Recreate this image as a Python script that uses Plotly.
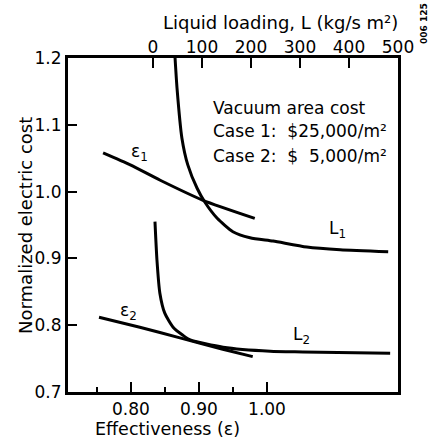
import plotly.graph_objects as go

# Effectiveness curves (bottom axis)
eff_1 = [0.759, 0.799, 0.843, 0.906, 0.982]
cost_eps1 = [1.058, 1.040, 1.017, 0.987, 0.960]
eff_2 = [0.753, 0.813, 0.872, 0.935, 0.979]
cost_eps2 = [0.812, 0.797, 0.781, 0.764, 0.753]

# Liquid loading curves (top axis)
load_1 = [45, 49, 59, 71, 90, 106, 131, 163, 198, 245, 314, 382, 480]
cost_L1 = [1.200, 1.155, 1.080, 1.040, 1.005, 0.984, 0.960, 0.940, 0.931, 0.926, 0.917, 0.913, 0.910]
load_2 = [4, 8, 14, 24, 41, 61, 76, 143, 239, 306, 484]
cost_L2 = [0.955, 0.898, 0.848, 0.818, 0.797, 0.785, 0.778, 0.767, 0.761, 0.760, 0.758]

eff_ticks = [0.80, 0.90, 1.00]
eff_tick_text = ["0.80", "0.90", "1.00"]
eff_minor = [0.75, 0.85, 0.95]
load_ticks = [0, 100, 200, 300, 400, 500]
cost_ticks = [0.7, 0.8, 0.9, 1.0, 1.1, 1.2]
cost_tick_text = ["0.7", "0.8", "0.9", "1.0", "1.1", "1.2"]

FONT = "DejaVu Sans, Liberation Sans, sans-serif"
FS = 17
FT = 18

W, H = 431, 441
ML, MR, MT, MB = 68, 33, 58, 49

fig = go.Figure()
line = dict(color="black", width=3, shape="spline", smoothing=0.6)
fig.add_trace(go.Scatter(x=eff_1, y=cost_eps1, mode="lines", line=line, xaxis="x", yaxis="y"))
fig.add_trace(go.Scatter(x=eff_2, y=cost_eps2, mode="lines", line=line, xaxis="x", yaxis="y"))
fig.add_trace(go.Scatter(x=load_1, y=cost_L1, mode="lines", line=line, xaxis="x2", yaxis="y"))
fig.add_trace(go.Scatter(x=load_2, y=cost_L2, mode="lines", line=line, xaxis="x2", yaxis="y"))

fig.update_layout(
    width=W, height=H, autosize=False,
    margin=dict(l=ML, r=MR, t=MT, b=MB),
    plot_bgcolor="white", paper_bgcolor="white",
    showlegend=False,
    font=dict(family=FONT, size=FS, color="black"),
    xaxis=dict(
        range=[0.7074, 1.1926], showgrid=False, zeroline=False,
        showline=True, linecolor="black", linewidth=3,
        tickmode="array", tickvals=eff_ticks, ticktext=eff_tick_text,
        ticks="inside", ticklen=10, tickwidth=2, tickcolor="black",
        minor=dict(tickvals=eff_minor, ticks="inside", ticklen=5, tickwidth=2, tickcolor="black"),
        tickfont=dict(family=FONT, size=FS),
    ),
    xaxis2=dict(
        range=[-173.5, 500], overlaying="x", side="top", anchor="y",
        showgrid=False, zeroline=False,
        showline=True, linecolor="black", linewidth=3,
        tickmode="array", tickvals=load_ticks,
        ticks="inside", ticklen=10, tickwidth=2, tickcolor="black",
        tickfont=dict(family=FONT, size=FS),
    ),
    yaxis=dict(
        range=[0.7, 1.2], showgrid=False, zeroline=False,
        showline=True, linecolor="black", linewidth=3, mirror=True,
        tickmode="array", tickvals=cost_ticks, ticktext=cost_tick_text,
        ticks="inside", ticklen=9, tickwidth=2, tickcolor="black",
        tickfont=dict(family=FONT, size=FS),
    ),
)
try:
    fig.update_layout(xaxis2_ticklabelstandoff=-5)
except Exception:
    pass

ann = []
def add(text, x, y, xref="x", yref="y", size=FS, xanchor="center", yanchor="middle", angle=0):
    ann.append(dict(text=text, x=x, y=y, xref=xref, yref=yref, showarrow=False,
                    font=dict(family=FONT, size=size, color="black"),
                    xanchor=xanchor, yanchor=yanchor, textangle=angle))

add("ε<sub>1</sub>", 0.813, 1.058)
add("L<sub>1</sub>", 1.103, 0.943)
add("ε<sub>2</sub>", 0.796, 0.820)
add("L<sub>2</sub>", 1.051, 0.784)
add("Vacuum area cost", 0.918, 1.125, xanchor="left")
add("Case 1:\u00a0\u00a0$25,000/m²", 0.918, 1.090, xanchor="left")
add("Case 2:\u00a0\u00a0$\u00a0\u00a05,000/m²", 0.918, 1.054, xanchor="left")

# titles placed by pixel position in the window, converted to paper (plot-area) fractions
def add_px(text, px, py, size=FT, angle=0):
    ann.append(dict(text=text, x=(px - ML) / (W - ML - MR), y=1 - (py - MT) / (H - MT - MB),
                    xref="paper", yref="paper", showarrow=False,
                    font=dict(family=FONT, size=size, color="black"),
                    xanchor="center", yanchor="middle", textangle=angle))

add_px("Liquid loading, L (kg/s m²)", 280, 22)
add_px("Normalized electric cost", 25, 226, angle=-90)
add_px("Effectiveness (ε)", 167, 429, size=17.5)
add_px("<b>006 125</b>", 424, 24, size=9, angle=-90)

fig.update_layout(annotations=ann)

fig.write_html("out.html", config={"displayModeBar": False},
               post_script="document.body.style.margin='0';document.body.style.overflow='hidden';")
